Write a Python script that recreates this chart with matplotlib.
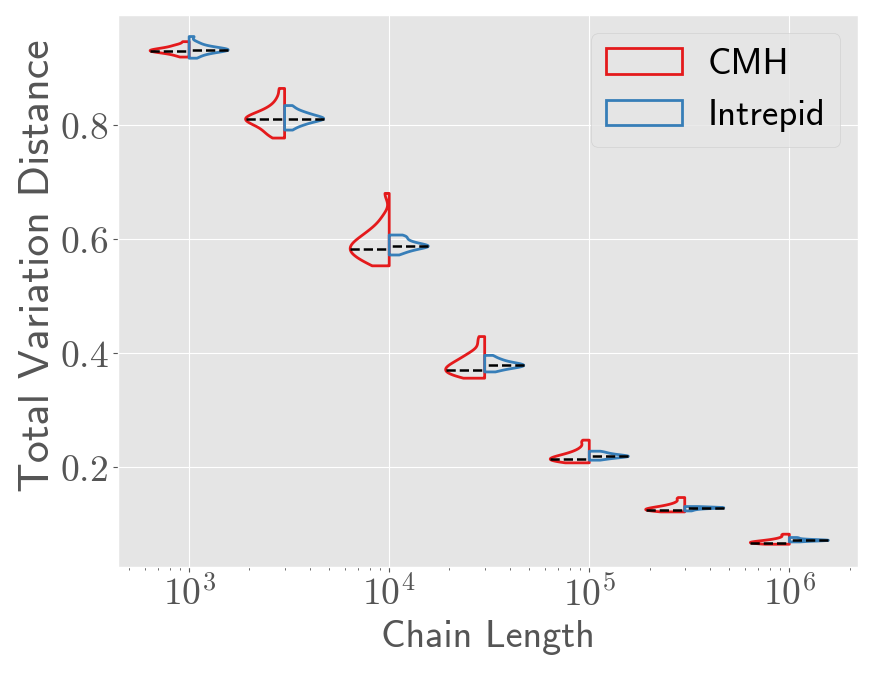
import numpy as np
import matplotlib.pyplot as plt
from matplotlib.patches import Patch
from matplotlib.ticker import FixedLocator, FuncFormatter

plt.style.use('ggplot')
plt.rcParams['mathtext.fontset'] = 'cm'

# Total variation distance of each run, per chain length
chain_lengths = [1e3, 3e3, 1e4, 3e4, 1e5, 3e5, 1e6]

cmh_tvd = [
    [0.919, 0.922, 0.924, 0.926, 0.927, 0.928, 0.929, 0.930, 0.930, 0.931,
     0.932, 0.933, 0.934, 0.935, 0.937, 0.939, 0.941, 0.946],
    [0.777, 0.782, 0.787, 0.792, 0.796, 0.800, 0.803, 0.806, 0.808, 0.810,
     0.811, 0.813, 0.815, 0.818, 0.821, 0.825, 0.830, 0.837, 0.848, 0.864],
    [0.553, 0.5564, 0.5619, 0.5659, 0.5699, 0.5728, 0.5756, 0.5785, 0.5812,
     0.5839, 0.5866, 0.5894, 0.5924, 0.5956, 0.5988, 0.6027, 0.6070, 0.6119,
     0.6177, 0.6253, 0.6392, 0.680],
    [0.356, 0.3575, 0.3603, 0.3627, 0.3648, 0.3667, 0.3685, 0.3704, 0.3723,
     0.3741, 0.3761, 0.3782, 0.3803, 0.3828, 0.3854, 0.3883, 0.3915, 0.3950,
     0.3995, 0.4053, 0.4173, 0.429],
    [0.2076, 0.2082, 0.2094, 0.2104, 0.2114, 0.2123, 0.2133, 0.2142, 0.2151,
     0.2161, 0.2170, 0.2182, 0.2194, 0.2206, 0.2221, 0.2239, 0.2259, 0.2285,
     0.2318, 0.2366, 0.2432, 0.2474],
    [0.1216, 0.1220, 0.1227, 0.1234, 0.1240, 0.1246, 0.1252, 0.1258, 0.1263,
     0.1270, 0.1276, 0.1283, 0.1291, 0.1298, 0.1308, 0.1319, 0.1332, 0.1348,
     0.1369, 0.1400, 0.1441, 0.1468],
    [0.0649, 0.0652, 0.0657, 0.0661, 0.0666, 0.0670, 0.0674, 0.0678, 0.0682,
     0.0687, 0.0691, 0.0696, 0.0701, 0.0706, 0.0713, 0.0721, 0.0730, 0.0741,
     0.0756, 0.0777, 0.0806, 0.0825],
]

intrepid_tvd = [
    [0.917, 0.921, 0.924, 0.926, 0.928, 0.929, 0.930, 0.931, 0.932, 0.932,
     0.933, 0.934, 0.935, 0.937, 0.939, 0.942, 0.946, 0.955],
    [0.791, 0.797, 0.800, 0.803, 0.805, 0.807, 0.809, 0.810, 0.811, 0.812,
     0.813, 0.815, 0.817, 0.819, 0.821, 0.824, 0.828, 0.834],
    [0.572, 0.576, 0.579, 0.581, 0.583, 0.585, 0.586, 0.587, 0.588, 0.589,
     0.590, 0.592, 0.594, 0.596, 0.599, 0.602, 0.605, 0.607],
    [0.367, 0.370, 0.372, 0.374, 0.375, 0.376, 0.377, 0.378, 0.379, 0.380,
     0.381, 0.382, 0.383, 0.385, 0.387, 0.389, 0.392, 0.396],
    [0.2123, 0.2140, 0.2152, 0.2162, 0.2170, 0.2177, 0.2183, 0.2188, 0.2193,
     0.2198, 0.2204, 0.2211, 0.2219, 0.2228, 0.2238, 0.2250, 0.2265, 0.2280],
    [0.1233, 0.1245, 0.1255, 0.1263, 0.1269, 0.1274, 0.1278, 0.1281, 0.1284,
     0.1286, 0.1288, 0.1290, 0.1292, 0.1294, 0.1297, 0.1300, 0.1304, 0.1310],
    [0.0690, 0.0697, 0.0702, 0.0706, 0.0709, 0.0712, 0.0714, 0.0716, 0.0718,
     0.0720, 0.0722, 0.0724, 0.0727, 0.0730, 0.0734, 0.0740, 0.0748, 0.0758,
     0.0767],
]

RED = '#e41a1c'
BLUE = '#377eb8'
SANS = 'cmss10'

pos = np.log10(chain_lengths)

fig, ax = plt.subplots(figsize=(8.75, 6.75), dpi=100)
fig.subplots_adjust(left=0.135, right=0.981, top=0.978, bottom=0.16)

for data, side, color in [(cmh_tvd, 'low', RED), (intrepid_tvd, 'high', BLUE)]:
    parts = ax.violinplot(data, positions=pos, widths=0.39, side=side,
                          showextrema=False, bw_method=0.38, points=200)
    for p, body in zip(pos, parts['bodies']):
        body.set_alpha(1)
        body.set_facecolor('none')
        body.set_edgecolor(color)
        body.set_linewidth(2)
        # dashed line at the widest point of the half violin
        verts = body.get_paths()[0].vertices
        i = np.argmax(np.abs(verts[:, 0] - p))
        ax.plot([verts[i, 0], p], [verts[i, 1], verts[i, 1]], color='k',
                ls='--', lw=1.8, zorder=3)

ax.set_xlim(2.645, 6.345)
ax.set_ylim(0.025, 0.993)

decades = [3, 4, 5, 6]
ax.xaxis.set_major_locator(FixedLocator(decades))
ax.xaxis.set_major_formatter(FuncFormatter(lambda v, _: r'$10^{%d}$' % round(v)))
minor = [np.log10(k * 10.0 ** d) for d in range(2, 7) for k in range(2, 10)]
ax.xaxis.set_minor_locator(FixedLocator(minor))
ax.yaxis.set_major_locator(FixedLocator([0.2, 0.4, 0.6, 0.8]))
ax.yaxis.set_major_formatter(FuncFormatter(lambda v, _: r'$%.1f$' % v))
ax.tick_params(axis='both', which='major', labelsize=27)
ax.grid(False, which='minor')

ax.set_xlabel('Chain Length', fontfamily=SANS, fontsize=27.5, color='#555555')
ax.set_ylabel('Total Variation Distance', fontfamily=SANS, fontsize=31.5,
              color='#555555', labelpad=2, y=0.545)

handles = [Patch(facecolor='none', edgecolor=RED, lw=2, label='CMH'),
           Patch(facecolor='none', edgecolor=BLUE, lw=2, label='Intrepid')]
ax.legend(handles=handles, loc='upper right', handlelength=2.05,
          handletextpad=0.7, prop={'family': SANS, 'size': 26.5})

plt.savefig('out.png', dpi=100)
